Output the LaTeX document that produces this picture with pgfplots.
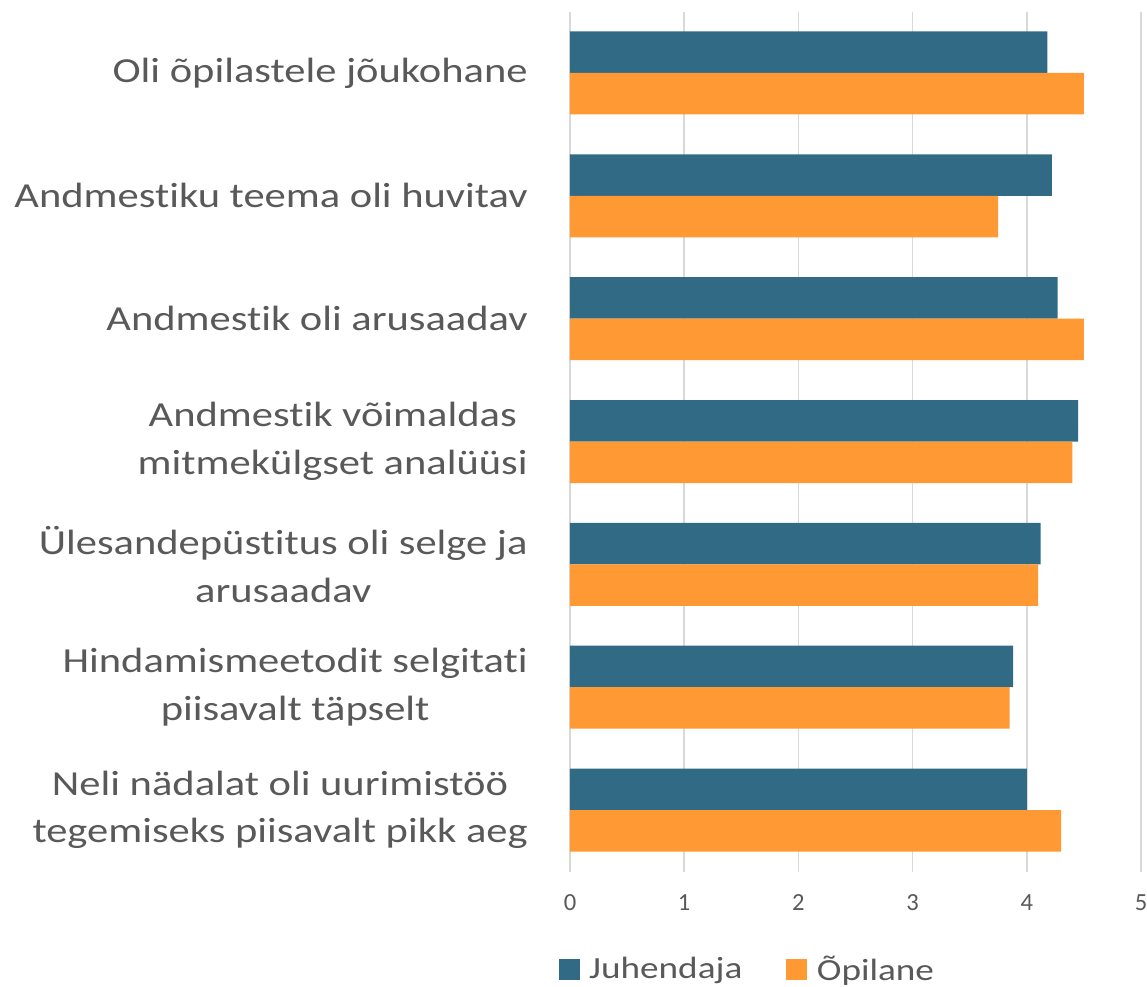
\documentclass[border=0pt]{standalone}
\usepackage{pgfplots}
\pgfplotsset{compat=1.18}
\usepackage{fontspec}
\setmainfont[Ligatures=NoCommon]{Carlito}
\newfontfamily\widefont[FakeStretch=1.21, Ligatures=NoCommon]{Carlito}
\definecolor{juhTeal}{HTML}{306A84}
\definecolor{opiOrange}{HTML}{FF9933}
\definecolor{labelGray}{HTML}{595959}
\definecolor{gridGray}{HTML}{D9D9D9}

\begin{document}
\begin{tikzpicture}
  \path[use as bounding box] (0,0) rectangle (22.94,19.74);
  \begin{axis}[
    at={(11.40cm,2.31cm)}, anchor=south west,
    scale only axis,
    width=11.42cm, height=17.2cm,
    xbar,
    bar width=0.83cm,
    xmin=0, xmax=5,
    ymin=0.5, ymax=7.5,
    y dir=reverse,
    xtick={0,1,2,3,4,5},
    ytick={1,2,3,4,5,6,7},
    yticklabels={
      {Oli õpilastele jõukohane},
      {Andmestiku teema oli huvitav},
      {Andmestik oli arusaadav},
      {Andmestik võimaldas\\mitmekülgset analüüsi},
      {Ülesandepüstitus oli selge ja\\arusaadav},
      {Hindamismeetodit selgitati\\piisavalt täpselt},
      {Neli nädalat oli uurimistöö\\tegemiseks piisavalt pikk aeg}
    },
    axis line style={draw=none},
    major tick length=0pt,
    xmajorgrids,
    grid style={draw=gridGray, line width=1pt},
    /pgf/number format/assume math mode=true,
    xticklabel style={font=\fontsize{14}{14}\selectfont, text=labelGray, yshift=-0.33cm},
    yticklabel style={font=\widefont\fontsize{20}{27}\selectfont, text=labelGray,
      align=center, inner sep=0pt, xshift=-0.84cm},
    legend columns=2,
    legend cell align=left,
    legend style={
      at={(0.312,-0.114)}, anchor=center,
      draw=none, fill=none,
      font=\widefont\fontsize{17.5}{17.5}\selectfont, text=labelGray,
      /tikz/every odd column/.append style={column sep=0.12cm},
      /tikz/every even column/.append style={column sep=0.81cm}
    },
    legend image code/.code={
      \fill (0cm,-0.21cm) rectangle (0.42cm,0.21cm);
    }
  ]
    \addplot[fill=juhTeal, draw=none, bar shift=0.415cm] coordinates {
      (4.18,1) (4.22,2) (4.27,3) (4.45,4) (4.12,5) (3.88,6) (4.00,7)
    };
    \addplot[fill=opiOrange, draw=none, bar shift=-0.415cm] coordinates {
      (4.50,1) (3.75,2) (4.50,3) (4.40,4) (4.10,5) (3.85,6) (4.30,7)
    };
    \legend{Juhendaja, Õpilane}
  \end{axis}
\end{tikzpicture}
\end{document}
